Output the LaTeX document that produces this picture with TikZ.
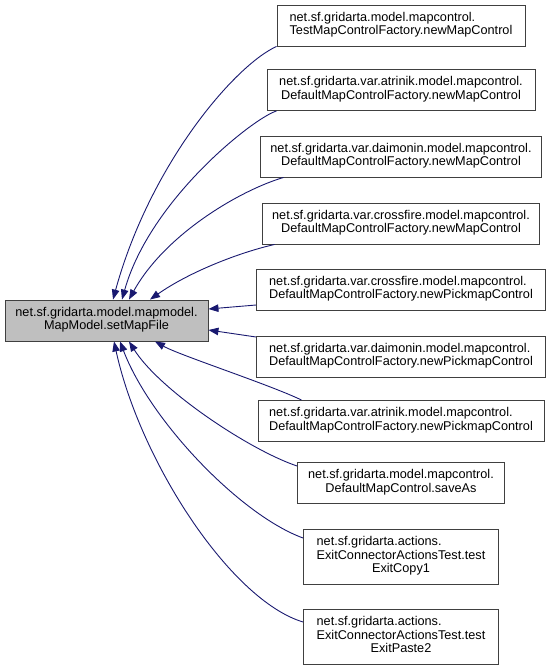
\documentclass[tikz,border=0pt]{standalone}
\usepackage{fontspec}
\setmainfont{Liberation Sans}
\usetikzlibrary{arrows.meta}

\definecolor{edgeblue}{RGB}{25,25,112}

% first line left, the rest centred
\newcommand{\fnlabel}[2]{\begin{tabular}{@{}c@{}}\multicolumn{1}{@{}l@{}}{#1}\\#2\end{tabular}}

\begin{document}
\begin{tikzpicture}[x=1pt, y=-1pt,
    fnbox/.style={draw=black!75, line width=0.9pt, fill=white, inner sep=0pt,
        minimum height=41pt, font=\fontsize{12.7}{13.5}\selectfont},
    caller/.style={draw=edgeblue, line width=0.9pt, -{Triangle[length=10pt, width=7.5pt]}}]
    \useasboundingbox (0,0) rectangle (552,670);

    % Called function
    \node[fnbox, fill=black!25, minimum width=203pt] (setmapfile) at (106.5,320.5) {\fnlabel{net.sf.gridarta.model.mapmodel.}{MapModel.setMapFile}};

    % Callers
    \node[fnbox, minimum width=248pt] (testfactory) at (401,25.5) {\fnlabel{net.sf.gridarta.model.mapcontrol.}{TestMapControlFactory.newMapControl}};
    \node[fnbox, minimum width=268pt] (atrinikctl) at (401,90) {\fnlabel{net.sf.gridarta.var.atrinik.model.mapcontrol.}{DefaultMapControlFactory.newMapControl}};
    \node[fnbox, minimum width=281pt] (daimoninctl) at (401,156.5) {\fnlabel{net.sf.gridarta.var.daimonin.model.mapcontrol.}{DefaultMapControlFactory.newMapControl}};
    \node[fnbox, minimum width=277pt] (crossfirectl) at (401,223.5) {\fnlabel{net.sf.gridarta.var.crossfire.model.mapcontrol.}{DefaultMapControlFactory.newMapControl}};
    \node[fnbox, minimum width=289pt] (crossfirepick) at (401,289.5) {\fnlabel{net.sf.gridarta.var.crossfire.model.mapcontrol.}{DefaultMapControlFactory.newPickmapControl}};
    \node[fnbox, minimum width=289pt] (daimoninpick) at (401,356.5) {\fnlabel{net.sf.gridarta.var.daimonin.model.mapcontrol.}{DefaultMapControlFactory.newPickmapControl}};
    \node[fnbox, minimum width=286pt] (atrinikpick) at (401,421) {\fnlabel{net.sf.gridarta.var.atrinik.model.mapcontrol.}{DefaultMapControlFactory.newPickmapControl}};
    \node[fnbox, minimum width=207pt] (saveas) at (401,483) {\fnlabel{net.sf.gridarta.model.mapcontrol.}{DefaultMapControl.saveAs}};
    \node[fnbox, minimum width=195pt, minimum height=55pt] (exitcopy) at (401,556.5) {\fnlabel{net.sf.gridarta.actions.}{ExitConnectorActionsTest.test\\ExitCopy1}};
    \node[fnbox, minimum width=195pt, minimum height=55pt] (exitpaste) at (401,636.5) {\fnlabel{net.sf.gridarta.actions.}{ExitConnectorActionsTest.test\\ExitPaste2}};

    % Calls from above
    \draw[caller] (testfactory.south west) .. controls +(-42,19) and +(37,-135) .. ([xshift=6.5pt]setmapfile.north);
    \draw[caller] ([xshift=10pt]atrinikctl.south west) .. controls +(-23,7) and +(28,-100) .. ([xshift=15.5pt]setmapfile.north);
    \draw[caller] ([xshift=23.5pt]daimoninctl.south west) .. controls +(-44,13) and +(36,-65) .. ([xshift=22.5pt]setmapfile.north);
    \draw[caller] ([xshift=12.5pt]crossfirectl.south west) .. controls +(-35,8) and +(40,-28) .. ([xshift=43.5pt]setmapfile.north);

    % Calls from the side
    \draw[caller] ([yshift=-15.5pt]crossfirepick.west) -- ([yshift=11.5pt]setmapfile.east);
    \draw[caller] ([yshift=19.5pt]daimoninpick.west) -- ([yshift=-9.5pt]setmapfile.east);

    % Calls from below
    \draw[caller] ([xshift=44pt]atrinikpick.north west) .. controls +(-32,-15.5) and +(25,14) .. ([xshift=48.5pt]setmapfile.south);
    \draw[caller] ([yshift=17pt]saveas.west) .. controls +(-47.5,-16) and +(31,49) .. ([xshift=22.5pt]setmapfile.south);
    \draw[caller] ([yshift=18.5pt]exitcopy.west) .. controls +(-63,-23) and +(30,79) .. ([xshift=13.5pt]setmapfile.south);
    \draw[caller] ([yshift=14.5pt]exitpaste.west) .. controls +(-73,-22) and +(26,119) .. ([xshift=7.5pt]setmapfile.south);
\end{tikzpicture}
\end{document}
